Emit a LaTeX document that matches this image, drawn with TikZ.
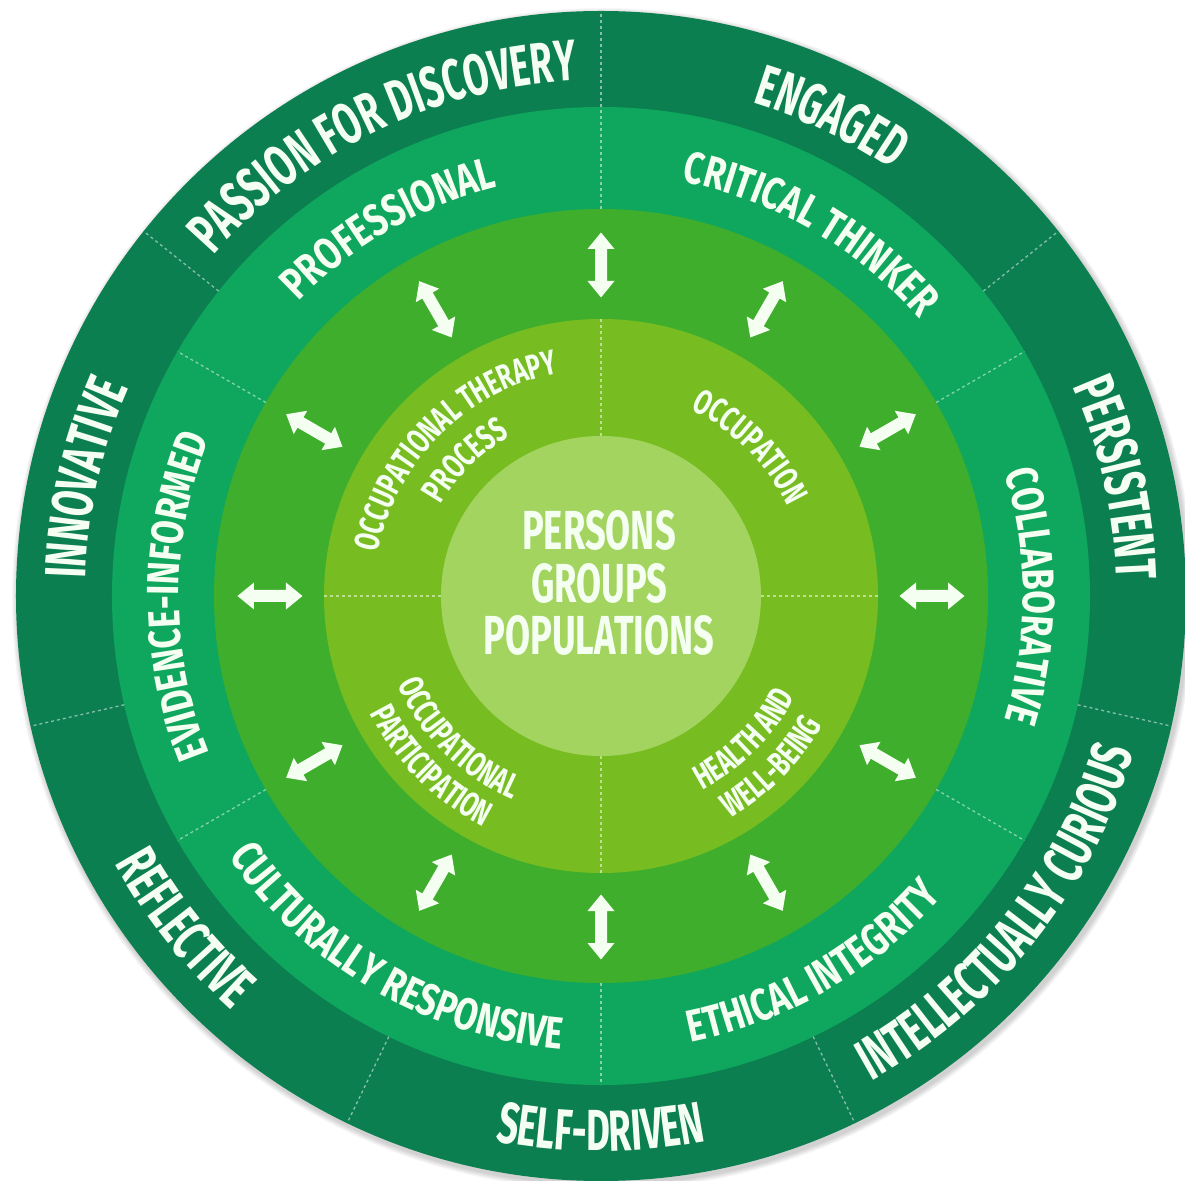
\documentclass[tikz,border=0pt]{standalone}
\usepackage{fontspec}
\setmainfont{Fira Sans}[FakeStretch=0.66]
\newfontfamily\fouter{Fira Sans}[FakeStretch=0.63]
\newfontfamily\fteal{Fira Sans}[FakeStretch=0.76]
\newfontfamily\flight{Fira Sans}[FakeStretch=0.68]
\usetikzlibrary{decorations.text}
\definecolor{ringA}{HTML}{0C7F50}
\definecolor{ringB}{HTML}{0FA65E}
\definecolor{ringC}{HTML}{3FAE2C}
\definecolor{ringD}{HTML}{77BD22}
\definecolor{ringE}{HTML}{A3D460}
\definecolor{txt}{HTML}{F4FFF2}
\newcommand\szouter{\fouter\fontsize{58}{58}\selectfont\bfseries}
\newcommand\szteal{\fteal\fontsize{45}{45}\selectfont\bfseries}
\newcommand\szlight{\flight\fontsize{35}{35}\selectfont\bfseries}
% #1 radius, #2 centre angle, #3 font macro, #4 text
\newcommand\cwtext[4]{%
  \path[decorate,decoration={text along path,text align=center,text color=txt,
    text={|#3|#4}}]
    ({#2+85}:#1) arc[start angle={#2+85}, end angle={#2-85}, radius=#1];}
\newcommand\ccwtext[4]{%
  \path[decorate,decoration={text along path,text align=center,text color=txt,
    text={|#3|#4}}]
    ({#2-85}:#1) arc[start angle={#2-85}, end angle={#2+85}, radius=#1];}
\tikzset{
  divider/.style={draw=white, draw opacity=0.5, line width=1.3, dash pattern=on 3 off 3},
  dblarrow/.pic={\fill[txt] (-32.5,0) -- (-16,13.5) -- (-16,6) -- (16,6) -- (16,13.5) -- (32.5,0)
      -- (16,-13.5) -- (16,-6) -- (-16,-6) -- (-16,-13.5) -- cycle;},
  centertext/.style={text=txt, font=\fontsize{55}{55}\selectfont\bfseries, inner sep=0pt, anchor=base}
}
\begin{document}
\begin{tikzpicture}[x=1pt,y=1pt]
\useasboundingbox (-601,-584) rectangle (584,596);
\fill[white] (-601,-584) rectangle (584,596);
% soft shadow
\foreach \i in {1,...,6} \fill[black, opacity=0.03] (2,-3) circle ({585+\i});
% rings
\fill[ringA] (0,0) circle (585);
\fill[ringB] (0,0) circle (489);
\fill[ringC] (0,0) circle (387);
\fill[ringD] (0,0) circle (277);
\fill[ringE] (0,0) circle (160);
% dividers
\foreach \k in {0,...,6} \draw[divider] ({90+\k*360/7}:489) -- ({90+\k*360/7}:585);
\foreach \a in {30,90,...,330} \draw[divider] (\a:387) -- (\a:489);
\foreach \a in {0,90,180,270} \draw[divider] (\a:160) -- (\a:277);
% arrows
\foreach \a in {0,30,...,330} \pic[rotate=\a] at (\a:331) {dblarrow};
% outer ring
\cwtext{516}{115.71}{\szouter}{PASSION FOR DISCOVERY}
\cwtext{516}{64.29}{\szouter}{ENGAGED}
\cwtext{516}{12.86}{\szouter}{PERSISTENT}
\cwtext{516}{167.14}{\szouter}{INNOVATIVE}
\ccwtext{555}{-38.57}{\szouter}{INTELLECTUALLY CURIOUS}
\ccwtext{555}{-90}{\szouter}{SELF-DRIVEN}
\ccwtext{555}{-141.43}{\szouter}{REFLECTIVE}
% second ring
\cwtext{422}{120}{\szteal}{PROFESSIONAL}
\cwtext{422}{60}{\szteal}{CRITICAL THINKER}
\cwtext{422}{0}{\szteal}{COLLABORATIVE}
\cwtext{422}{180}{\szteal}{EVIDENCE-INFORMED}
\ccwtext{455}{-60}{\szteal}{ETHICAL INTEGRITY}
\ccwtext{455}{-120}{\szteal}{CULTURALLY RESPONSIVE}
% fourth ring
\cwtext{227}{135}{\szlight}{OCCUPATIONAL THERAPY}
\cwtext{184}{135}{\szlight}{PROCESS}
\cwtext{207}{45}{\szlight}{OCCUPATION}
\ccwtext{222}{-135}{\szlight}{OCCUPATIONAL}
\ccwtext{259}{-135}{\szlight}{PARTICIPATION}
\ccwtext{219}{-45}{\szlight}{HEALTH AND}
\ccwtext{257}{-45}{\szlight}{WELL-BEING}
% centre
\node[centertext] (persons) at (-2,46) {PERSONS};
\node[centertext] (groups) at (-2,-7) {GROUPS};
\node[centertext] (populations) at (-2,-59) {POPULATIONS};
\end{tikzpicture}
\end{document}
